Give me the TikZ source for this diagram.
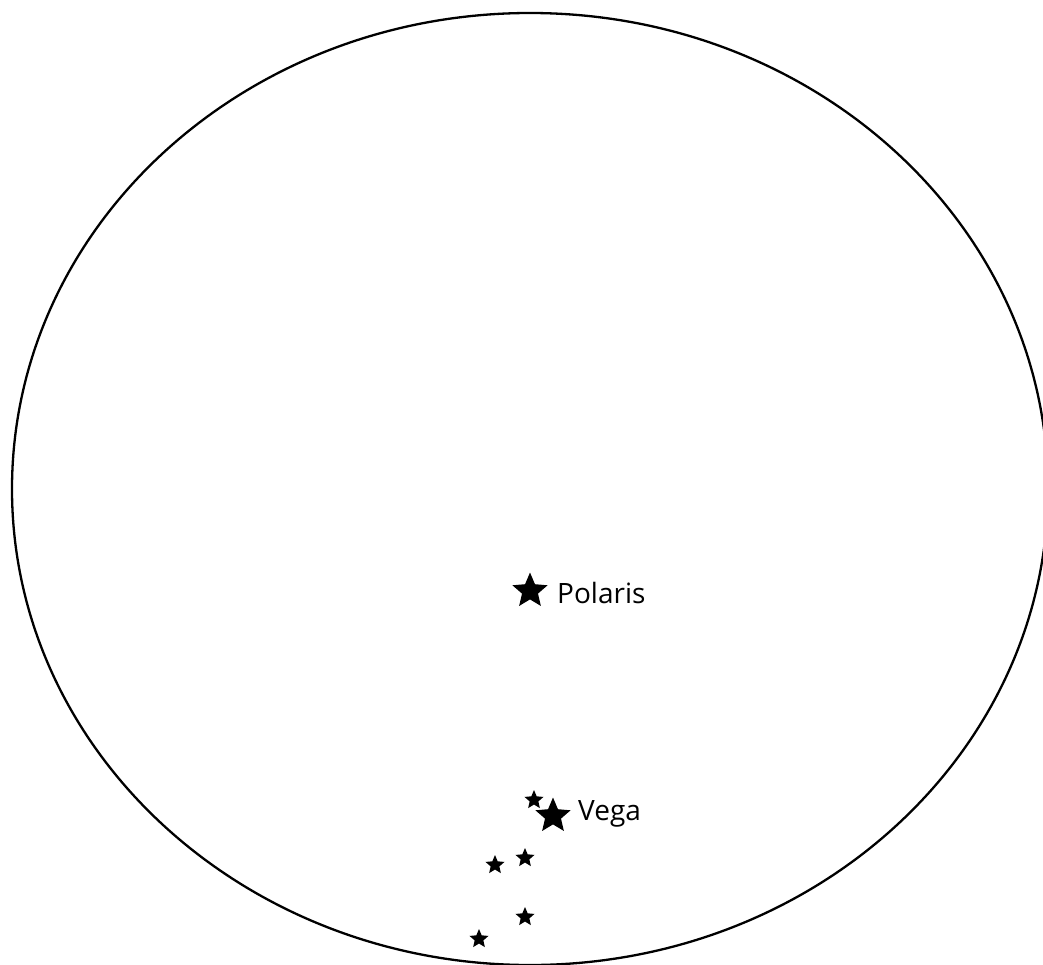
\documentclass[tikz,border=0pt]{standalone}
\usepackage{fontspec}
\setmainfont{Open Sans}
\usetikzlibrary{shapes.geometric}
\tikzset{
  starbig/.style={star, star points=5, star point ratio=2.2, fill=black, draw=none, inner sep=0pt, minimum size=37pt},
  starsmall/.style={star, star points=5, star point ratio=2.2, fill=black, draw=none, inner sep=0pt, minimum size=20pt},
  starlabel/.style={anchor=base west, inner sep=0pt, font=\fontsize{28}{34}\selectfont},
  sky/.style={draw=black, line width=2.3pt}
}
\begin{document}
\begin{tikzpicture}[x=1pt, y=-1pt]
\useasboundingbox (0,0) rectangle (1043,964);
\clip (0,0) rectangle (1043,964);
\draw[sky] (530,489) ellipse [x radius=518, y radius=476];
\node[starbig] (polaris) at (530,591) {};
\node[starlabel] (polarislabel) at (557,603) {Polaris};
\node[starbig] (vega) at (553,816) {};
\node[starlabel] (vegalabel) at (578,820) {Vega};
\node[starsmall] (s1) at (534,800) {};
\node[starsmall] (s2) at (525,858) {};
\node[starsmall] (s3) at (495,865) {};
\node[starsmall] (s4) at (525,917) {};
\node[starsmall] (s5) at (479,939) {};
\end{tikzpicture}
\end{document}
